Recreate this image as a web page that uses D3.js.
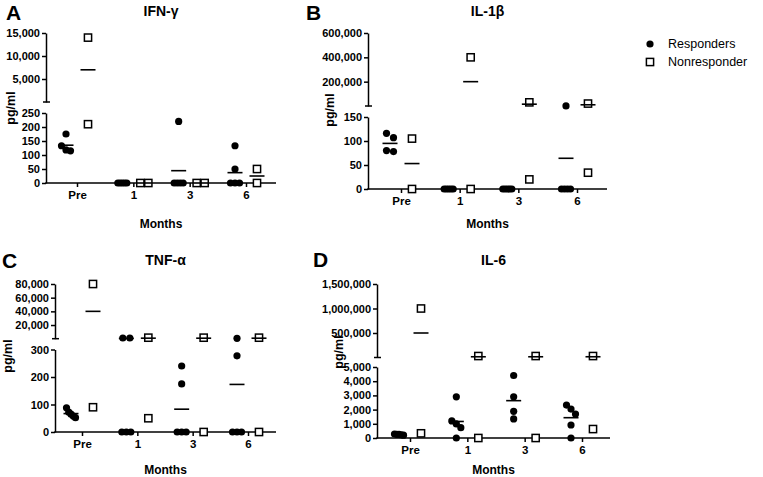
<!DOCTYPE html>
<html><head><meta charset="utf-8">
<script src="https://cdn.jsdelivr.net/npm/d3@7"></script>
<style>body{margin:0;background:#fff}text{font-family:"Liberation Sans",Arial,sans-serif}</style>
</head><body>
<svg id="chart" width="763" height="477"></svg>
<script>
const months = ["Pre", "1", "3", "6"];
const seriesNames = ["Responders", "Nonresponder"];

// IFN-γ
const ifnResp = [[175, 133, 118, 115], [0, 0, 0, 0, 0], [220, 0, 0, 0, 0], [133, 50, 0, 0, 0]];
const ifnNon = [[14000, 210], [0, 0], [0, 0], [50, 0]];
const ifnRespMean = [135, 0, 44, 37];
const ifnNonMean = [7000, 0, 0, 25];
const ifnLowTicks = [0, 50, 100, 150, 200, 250];
const ifnUpTicks = [5000, 10000, 15000];

// IL-1β
const il1Resp = [[116, 107, 80, 78], [0, 0, 0, 0, 0], [0, 0, 0, 0, 0], [320, 0, 0, 0, 0]];
const il1Non = [[105, 0], [400000, 0], [30000, 20], [20000, 34]];
const il1RespMean = [95, 0, 0, 64];
const il1NonMean = [53, 200000, 15000, 10000];
const il1LowTicks = [0, 50, 100, 150];
const il1UpTicks = [200000, 400000, 600000];

// TNF-α
const tnfResp = [[88, 72, 65, 58, 52], [1000, 1000, 0, 0, 0], [240, 175, 0, 0, 0], [590, 277, 0, 0, 0]];
const tnfNon = [[80000, 90], [1500, 50], [1500, 0], [1500, 0]];
const tnfRespMean = [67, 400, 83, 173];
const tnfNonMean = [40000, 775, 750, 750];
const tnfLowTicks = [0, 100, 200, 300];
const tnfUpTicks = [20000, 40000, 60000, 80000];

// IL-6
const il6Resp = [[250, 230, 280, 200, 260], [2900, 990, 730, 1200, 0], [4400, 2900, 1880, 1340], [2320, 2040, 1690, 915, 0]];
const il6Non = [[1000000, 330], [30000, 0], [30000, 0], [30000, 630]];
const il6RespMean = [244, 1164, 2630, 1430];
const il6NonMean = [500000, 15000, 15000, 15300];
const il6LowTicks = [0, 1000, 2000, 3000, 4000, 5000];
const il6UpTicks = [500000, 1000000, 1500000];

const panels = [
  {letter: "A", title: "IFN-γ", resp: ifnResp, non: ifnNon, respMean: ifnRespMean, nonMean: ifnNonMean, lowMax: 250, upMax: 15000, lowTicks: ifnLowTicks, upTicks: ifnUpTicks},
  {letter: "B", title: "IL-1β", resp: il1Resp, non: il1Non, respMean: il1RespMean, nonMean: il1NonMean, lowMax: 150, upMax: 600000, lowTicks: il1LowTicks, upTicks: il1UpTicks},
  {letter: "C", title: "TNF-α", resp: tnfResp, non: tnfNon, respMean: tnfRespMean, nonMean: tnfNonMean, lowMax: 300, upMax: 80000, lowTicks: tnfLowTicks, upTicks: tnfUpTicks},
  {letter: "D", title: "IL-6", resp: il6Resp, non: il6Non, respMean: il6RespMean, nonMean: il6NonMean, lowMax: 5000, upMax: 1500000, lowTicks: il6LowTicks, upTicks: il6UpTicks}
];

// layout (positions only)
const layouts = [
  {axisX: 46, xFirst: 77, xLast: 246, xEnd: 276, baseY: 183, lowTop: 113, breakY: 102, upTop: 33, letterX: 6, letterY: 20, titleY: 16, monthsY: 228, ylabX: 11, ylabY: 108},
  {axisX: 368, xFirst: 401, xLast: 577, xEnd: 607, baseY: 189, lowTop: 117, breakY: 106, upTop: 33, letterX: 306, letterY: 20, titleY: 16, monthsY: 228, ylabX: 330, ylabY: 110},
  {axisX: 55, xFirst: 82, xLast: 248, xEnd: 276, baseY: 432, lowTop: 349.5, breakY: 338.7, upTop: 284, letterX: 2, letterY: 268, titleY: 265, monthsY: 474, ylabX: 8, ylabY: 356},
  {axisX: 377, xFirst: 410, xLast: 582, xEnd: 610, baseY: 438, lowTop: 367, breakY: 357.5, upTop: 284, letterX: 313, letterY: 267, titleY: 265, monthsY: 474, ylabX: 339, ylabY: 352}
];

const svg = d3.select("#chart");
const fmt = d3.format(",");
const AX = 1.5;

function spreadOffsets(ys, minGap, full, maxSpan) {
  const off = new Array(ys.length).fill(0);
  if (!ys.length) return off;
  const idx = ys.map((y, i) => i).sort((a, b) => ys[a] - ys[b]);
  let cluster = [idx[0]];
  const flush = () => {
    const k = cluster.length;
    if (k > 1) {
      const s = Math.min(full, maxSpan / (k - 1));
      cluster.forEach((j, i) => off[j] = (i - (k - 1) / 2) * s);
    }
  };
  for (let n = 1; n < idx.length; n++) {
    const j = idx[n];
    if (ys[j] - ys[cluster[cluster.length - 1]] < minGap) cluster.push(j);
    else { flush(); cluster = [j]; }
  }
  flush();
  return off;
}

panels.forEach((p, pi) => {
  const L = layouts[pi];
  const g = svg.append("g");
  const low = d3.scaleLinear().domain([0, p.lowMax]).range([L.baseY, L.lowTop]);
  const up = d3.scaleLinear().domain([0, p.upMax]).range([L.breakY, L.upTop]);
  const y = v => v <= p.lowMax ? low(v) : up(v);
  const x = d3.scalePoint().domain(months).range([L.xFirst, L.xLast]);
  const xs = d3.scalePoint().domain(seriesNames).range([-11, 11]);

  // y axes
  const lowAxis = d3.axisLeft(low).tickValues(p.lowTicks).tickFormat(fmt).tickSize(4).tickPadding(2).tickSizeOuter(0);
  const upAxis = d3.axisLeft(up).tickValues(p.upTicks).tickFormat(fmt).tickSize(4).tickPadding(2).tickSizeOuter(0);
  [lowAxis, upAxis].forEach(a => {
    const ag = g.append("g").attr("transform", `translate(${L.axisX},0)`).call(a);
    ag.selectAll("path,line").attr("stroke", "#000").attr("stroke-width", AX);
    ag.selectAll("text").attr("font-size", 11).attr("font-weight", "bold").attr("fill", "#000")
      .style("font-family", '"Liberation Sans",Arial,sans-serif');
  });
  // break mark
  g.append("line").attr("x1", L.axisX - 3).attr("x2", L.axisX + 4).attr("y1", L.breakY).attr("y2", L.breakY)
    .attr("stroke", "#000").attr("stroke-width", AX);

  // x axis
  g.append("line").attr("x1", L.axisX - AX / 2).attr("x2", L.xEnd).attr("y1", L.baseY).attr("y2", L.baseY)
    .attr("stroke", "#000").attr("stroke-width", AX);
  const xa = g.append("g").attr("transform", `translate(0,${L.baseY})`)
    .call(d3.axisBottom(x).tickSize(4).tickPadding(4).tickSizeOuter(0));
  xa.select(".domain").remove();
  xa.selectAll("line").attr("stroke", "#000").attr("stroke-width", AX);
  xa.selectAll("text").attr("font-size", 11.5).attr("font-weight", "bold").attr("fill", "#000")
    .style("font-family", '"Liberation Sans",Arial,sans-serif');

  // labels
  g.append("text").attr("x", L.letterX).attr("y", L.letterY).attr("font-size", 21).attr("font-weight", "bold").text(p.letter);
  const cx = (L.axisX + L.xEnd) / 2;
  g.append("text").attr("x", cx).attr("y", L.titleY).attr("text-anchor", "middle").attr("font-size", 14).attr("font-weight", "bold").text(p.title);
  g.append("text").attr("x", cx).attr("y", L.monthsY).attr("text-anchor", "middle").attr("font-size", 12).attr("font-weight", "bold").text("Months");
  g.append("text").attr("transform", `translate(${L.ylabX},${L.ylabY}) rotate(-90)`).attr("text-anchor", "middle")
    .attr("dominant-baseline", "central").attr("font-size", 12.5).attr("font-weight", "bold").text("pg/ml");

  // markers
  months.forEach((m, mi) => {
    const rv = p.resp[mi];
    const rys = rv.map(y);
    const roff = spreadOffsets(rys, 7, 7, 9);
    const rx = x(m) + xs("Responders");
    g.selectAll(null).data(rv).enter().append("circle")
      .attr("cx", (d, i) => rx + roff[i]).attr("cy", (d, i) => rys[i]).attr("r", 3.6).attr("fill", "#000");

    const nv = p.non[mi];
    const nys = nv.map(y);
    const noff = spreadOffsets(nys, 8, 8, 8);
    const nx = x(m) + xs("Nonresponder");
    g.selectAll(null).data(nv).enter().append("rect")
      .attr("x", (d, i) => nx + noff[i] - 3.6).attr("y", (d, i) => nys[i] - 3.6).attr("width", 7.2).attr("height", 7.2)
      .attr("fill", "#fff").attr("stroke", "#000").attr("stroke-width", 1.5);

    // mean lines
    [[p.respMean[mi], rx], [p.nonMean[mi], nx]].forEach(([mv, cxm]) => {
      g.append("line").attr("x1", cxm - 7.5).attr("x2", cxm + 7.5).attr("y1", y(mv)).attr("y2", y(mv))
        .attr("stroke", "#000").attr("stroke-width", 1.6);
    });
  });
});

// legend
const lg = svg.append("g");
lg.append("circle").attr("cx", 650).attr("cy", 44).attr("r", 3.6).attr("fill", "#000");
lg.append("rect").attr("x", 646.4).attr("y", 58.4).attr("width", 7.2).attr("height", 7.2).attr("fill", "#fff").attr("stroke", "#000").attr("stroke-width", 1.5);
lg.append("text").attr("x", 668).attr("y", 48).attr("font-size", 12.5).text(seriesNames[0]);
lg.append("text").attr("x", 668).attr("y", 66).attr("font-size", 12.5).text(seriesNames[1]);
</script>
</body></html>
